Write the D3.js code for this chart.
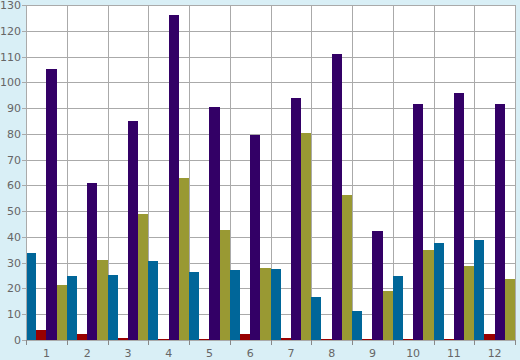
<!DOCTYPE html>
<html>
<head>
<meta charset="utf-8">
<script src="https://cdn.jsdelivr.net/npm/d3@7"></script>
<style>
  body { margin: 0; background: #d9eff6; }
  text { font-family: "DejaVu Sans", sans-serif; font-size: 11px; fill: #666; }
</style>
</head>
<body>
<script>
let categories = ['1', '2', '3', '4', '5', '6', '7', '8', '9', '10', '11', '12'];
let seriesNames = ['blue', 'red', 'purple', 'olive'];
let blueValues = [33.8, 24.8, 25.3, 30.6, 26.4, 27.2, 27.5, 16.7, 11.3, 24.8, 37.6, 38.8];
let redValues = [4.0, 2.3, 0.8, 0.3, 0.3, 2.3, 0.8, 0.3, 0.3, 0.5, 0.3, 2.3];
let purpleValues = [105.2, 60.9, 85.0, 126.1, 90.4, 79.5, 93.9, 111.0, 42.4, 91.6, 95.8, 91.6];
let oliveValues = [21.3, 31.0, 48.9, 62.9, 42.6, 27.9, 80.3, 56.3, 19.0, 34.9, 28.7, 23.7];
let colors = ['#006699', '#990000', '#330066', '#999933'];
let yTicks = d3.range(0, 131, 10);

let series = [blueValues, redValues, purpleValues, oliveValues];

let svg = d3.select('body')
  .append('svg')
  .style('display', 'block')
  .attr('width', 520)
  .attr('height', 360);

let plotLeft = 26, plotRight = 515, plotTop = 5, plotBottom = 340;

let x = d3.scaleBand().domain(categories).range([plotLeft, plotRight]).padding(0);
let xInner = d3.scaleBand().domain(seriesNames).range([0, x.bandwidth()]).padding(0);
let y = d3.scaleLinear().domain([0, 130]).range([plotBottom, plotTop]);

// plot background
svg.append('rect')
  .attr('x', plotLeft).attr('y', plotTop)
  .attr('width', plotRight - plotLeft).attr('height', plotBottom - plotTop)
  .attr('fill', 'white');

// horizontal grid
svg.append('g')
  .selectAll('line').data(yTicks)
  .enter().append('line')
  .attr('x1', plotLeft - 4).attr('x2', plotRight)
  .attr('y1', d => Math.round(y(d)) + 0.5).attr('y2', d => Math.round(y(d)) + 0.5)
  .attr('stroke', '#aaa');

// vertical grid at group boundaries
svg.append('g')
  .selectAll('line').data(categories.slice(1))
  .enter().append('line')
  .attr('x1', d => Math.round(x(d)) + 0.5).attr('x2', d => Math.round(x(d)) + 0.5)
  .attr('y1', plotTop).attr('y2', plotBottom)
  .attr('stroke', '#aaa');

// bars
let groups = svg.append('g')
  .selectAll('g').data(categories)
  .enter().append('g')
  .attr('transform', d => `translate(${x(d)},0)`);

groups.selectAll('rect')
  .data((d, i) => series.map((s, j) => ({ key: seriesNames[j], value: s[i], color: colors[j] })))
  .enter().append('rect')
  .attr('x', d => xInner(d.key))
  .attr('width', xInner.bandwidth())
  .attr('y', d => y(d.value))
  .attr('height', d => plotBottom - y(d.value))
  .attr('fill', d => d.color)
  .attr('shape-rendering', 'crispEdges');

// border
svg.append('rect')
  .attr('x', plotLeft + 0.5).attr('y', plotTop + 0.5)
  .attr('width', plotRight - plotLeft).attr('height', plotBottom - plotTop)
  .attr('fill', 'none')
  .attr('stroke', '#aaa');

// y labels
svg.append('g')
  .selectAll('text').data(yTicks)
  .enter().append('text')
  .attr('x', 21)
  .attr('y', d => y(d) + 4)
  .attr('text-anchor', 'end')
  .text(d => d);

// x ticks at boundaries
let boundaries = categories.map(d => x(d)).concat([plotRight]);
svg.append('g')
  .selectAll('line').data(boundaries)
  .enter().append('line')
  .attr('x1', d => Math.round(d) + 0.5).attr('x2', d => Math.round(d) + 0.5)
  .attr('y1', plotBottom).attr('y2', plotBottom + 5)
  .attr('stroke', '#888');

// x labels
svg.append('g')
  .selectAll('text').data(categories)
  .enter().append('text')
  .attr('x', d => x(d) + x.bandwidth() / 2)
  .attr('y', 357)
  .attr('text-anchor', 'middle')
  .text(d => d);
</script>
</body>
</html>
